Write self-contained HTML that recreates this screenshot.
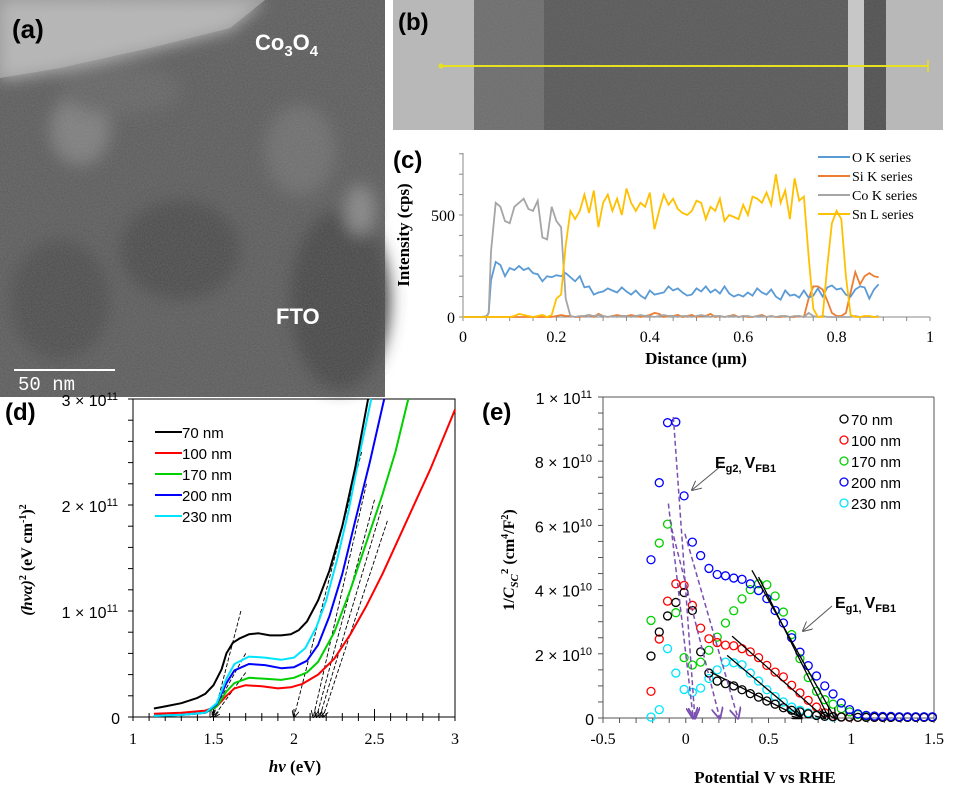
<!DOCTYPE html>
<html><head><meta charset="utf-8"><style>
body{margin:0;background:#fff;}
svg{display:block;}
.serif{font-family:"Liberation Serif",serif;}
.sans{font-family:"Liberation Sans",sans-serif;}
</style></head><body>
<svg id="fig" width="955" height="797" viewBox="0 0 955 797" xmlns="http://www.w3.org/2000/svg">
<defs>
<filter id="noise" x="0" y="0" width="100%" height="100%">
<feTurbulence type="fractalNoise" baseFrequency="0.7" numOctaves="2" seed="3"/>
<feColorMatrix type="matrix" values="0 0 0 0 0.5  0 0 0 0 0.5  0 0 0 0 0.5  0 0 0 0.5 0"/>
</filter>
<filter id="blur"><feGaussianBlur stdDeviation="8"/></filter>
<marker id="ah" markerWidth="8" markerHeight="8" refX="7" refY="4" orient="auto"><path d="M0,0 L8,4 L0,8" fill="none" stroke="#000" stroke-width="1"/></marker>
<marker id="ahp" markerWidth="8" markerHeight="8" refX="7" refY="4" orient="auto"><path d="M0,0 L8,4 L0,8" fill="none" stroke="#7b4fb0" stroke-width="1.2"/></marker>
<marker id="ahg" markerWidth="10" markerHeight="10" refX="9" refY="5" orient="auto"><path d="M0,0 L10,5 L0,10" fill="none" stroke="#555" stroke-width="1"/></marker>
</defs>
<!-- panel a -->
<g>
<rect x="0" y="0" width="385" height="397" fill="#5a5a5a"/>
<g filter="url(#blur)">
<polygon points="0,0 265,0 230,30 150,50 60,70 0,80" fill="#b4b4b4"/>
<ellipse cx="80" cy="130" rx="30" ry="35" fill="#7c7c7c"/>
<ellipse cx="300" cy="150" rx="35" ry="45" fill="#6c6c6c"/>
<ellipse cx="180" cy="250" rx="60" ry="50" fill="#4a4a4a"/>
<ellipse cx="340" cy="300" rx="50" ry="90" fill="#444"/>
<ellipse cx="60" cy="300" rx="50" ry="60" fill="#4c4c4c"/>
<ellipse cx="360" cy="210" rx="15" ry="25" fill="#858585"/>
<ellipse cx="120" cy="90" rx="60" ry="25" fill="#646464"/>
</g>
<polygon points="0,0 265,0 230,28 150,48 60,68 0,78" fill="#b8b8b8" opacity="0.6"/>
<rect x="0" y="0" width="385" height="397" filter="url(#noise)" opacity="0.5"/>
<text x="12" y="38" class="sans" font-size="26" font-weight="bold" fill="#000">(a)</text>
<text x="255" y="50" class="sans" font-size="22" font-weight="bold" fill="#fff">Co<tspan font-size="15" dy="6">3</tspan><tspan dy="-6">O</tspan><tspan font-size="15" dy="6">4</tspan></text>
<text x="276" y="324" class="sans" font-size="22" font-weight="bold" fill="#fff">FTO</text>
<line x1="14" y1="370" x2="115" y2="370" stroke="#fff" stroke-width="2"/>
<text x="18" y="390" font-family="Liberation Mono,monospace" font-size="19" fill="#fff">50 nm</text>
</g>
<!-- panel b -->
<g>
<rect x="393" y="0" width="550" height="130" fill="#b8b8b8"/>
<rect x="474" y="0" width="374" height="130" fill="#585858"/>
<rect x="474" y="0" width="70" height="130" fill="#6c6c6c"/>
<rect x="848" y="0" width="16" height="130" fill="#c8c8c8"/>
<rect x="864" y="0" width="22" height="130" fill="#505050"/>
<rect x="393" y="0" width="550" height="130" filter="url(#noise)" opacity="0.35"/>
<line x1="441" y1="66" x2="928" y2="66" stroke="#e6e020" stroke-width="2"/>
<circle cx="441" cy="66" r="2.5" fill="#e6e020"/>
<line x1="928" y1="60" x2="928" y2="72" stroke="#e6e020" stroke-width="1.5"/>
<text x="398" y="30" class="sans" font-size="24" font-weight="bold" fill="#000">(b)</text>
</g>
<text x="393" y="168" class="sans" font-size="24" font-weight="bold">(c)</text>
<text x="5" y="420" class="sans" font-size="24" font-weight="bold">(d)</text>
<text x="482" y="420" class="sans" font-size="24" font-weight="bold">(e)</text>
<g id="pc"></g>
<g id="pd"></g>
<g id="pe"></g>
</svg>
<script>
// ---------- panel c data ----------
const cDist = [0,0.02,0.04,0.05,0.055,0.06,0.07,0.08,0.09,0.1,0.11,0.12,0.13,0.14,0.15,0.16,0.17,0.18,0.19,0.2,0.21,0.22,0.23,0.24,0.25,0.26,0.27,0.28,0.29,0.3,0.31,0.32,0.33,0.34,0.35,0.36,0.37,0.38,0.39,0.4,0.41,0.42,0.43,0.44,0.45,0.46,0.47,0.48,0.49,0.5,0.51,0.52,0.53,0.54,0.55,0.56,0.57,0.58,0.59,0.6,0.61,0.62,0.63,0.64,0.65,0.66,0.67,0.68,0.69,0.7,0.71,0.72,0.73,0.74,0.75,0.76,0.77,0.78,0.79,0.8,0.81,0.82,0.83,0.84,0.85,0.86,0.87,0.88,0.89];
const cO  = [0,0,0,0,20,180,270,255,200,240,230,250,230,240,215,210,175,200,195,205,200,215,195,175,200,145,150,110,120,125,140,130,120,145,125,110,130,105,90,130,110,115,120,150,130,140,120,105,110,140,125,150,120,135,115,150,115,100,110,100,120,105,140,120,110,135,100,85,130,105,110,95,130,95,105,140,100,145,155,135,140,110,100,135,150,145,90,135,160];
const cSi = [0,0,0,0,0,0,0,0,0,0,0,0,0,0,0,0,0,0,0,5,10,5,5,0,0,5,10,0,15,5,0,5,10,5,5,10,5,0,5,10,20,15,0,5,5,10,0,5,10,0,5,5,15,0,5,0,5,10,0,5,0,0,5,10,0,5,0,0,5,0,0,5,0,90,150,150,135,80,20,5,5,20,120,220,160,200,215,200,195];
const cCo = [0,0,0,5,20,320,560,540,470,460,540,560,580,530,520,570,390,380,540,470,440,90,5,0,5,5,10,5,10,5,0,5,0,5,5,0,5,10,5,5,0,5,10,5,5,0,5,5,0,5,10,5,0,5,5,0,5,5,0,5,5,0,5,5,0,5,0,5,5,0,5,5,0,20,5,0,5,0,0,0,0,0,0,5,0,0,0,0,5];
const cSn = [0,0,0,0,0,0,0,0,0,0,5,15,10,5,0,5,10,0,10,90,110,350,520,480,520,600,510,620,440,560,600,520,580,500,630,560,520,560,540,610,430,520,600,550,580,530,510,500,520,570,560,480,540,520,580,470,500,490,480,550,500,590,580,560,610,550,700,560,620,480,680,570,590,300,40,0,0,250,460,520,480,200,10,0,0,5,5,0,0];
const cYTicks = [0,500];
const cXTicks = [0,0.2,0.4,0.6,0.8,1];
// ---------- panel d data ----------
const dSeriesNames = ["70 nm","100 nm","170 nm","200 nm","230 nm"];
const dX70  = [1.13,1.2,1.3,1.4,1.45,1.5,1.55,1.58,1.62,1.66,1.72,1.78,1.85,1.92,1.98,2.03,2.08,2.15,2.22,2.3,2.38,2.46];
const dY70  = [0.08,0.1,0.13,0.18,0.22,0.3,0.45,0.6,0.7,0.74,0.78,0.79,0.77,0.77,0.78,0.82,0.9,1.1,1.38,1.8,2.35,3.0];
const dX100 = [1.13,1.3,1.45,1.52,1.58,1.63,1.7,1.8,1.9,1.98,2.05,2.15,2.25,2.35,2.45,2.55,2.7,2.85,3.0];
const dY100 = [0.03,0.04,0.06,0.1,0.2,0.27,0.3,0.29,0.27,0.28,0.31,0.4,0.55,0.78,1.05,1.35,1.85,2.35,2.9];
const dX170 = [1.13,1.3,1.45,1.52,1.58,1.63,1.72,1.82,1.92,2.0,2.08,2.15,2.25,2.35,2.45,2.55,2.63,2.71];
const dY170 = [0.01,0.02,0.04,0.1,0.24,0.32,0.37,0.36,0.35,0.37,0.42,0.52,0.8,1.2,1.65,2.1,2.5,3.0];
const dX200 = [1.13,1.3,1.45,1.52,1.58,1.63,1.72,1.82,1.92,2.0,2.08,2.15,2.22,2.3,2.38,2.47,2.56];
const dY200 = [0.01,0.02,0.04,0.12,0.32,0.44,0.5,0.49,0.46,0.47,0.53,0.68,0.95,1.35,1.85,2.4,3.0];
const dX230 = [1.13,1.3,1.45,1.52,1.58,1.63,1.72,1.82,1.92,2.0,2.07,2.14,2.2,2.27,2.34,2.41,2.48];
const dY230 = [0.01,0.02,0.04,0.13,0.36,0.5,0.57,0.56,0.54,0.56,0.65,0.85,1.1,1.5,1.95,2.5,3.0];
const dTangentStart = [[1.5,0],[1.48,0],[1.5,0],[2.0,0],[2.12,0],[2.14,0],[2.16,0],[2.18,0]];
const dTangentEnd   = [[1.67,1.0],[1.7,0.6],[1.7,0.42],[2.42,2.5],[2.45,2.2],[2.5,2.05],[2.55,2.0],[2.58,1.85]];
const dXTicks = [1,1.5,2,2.5,3];
const dYTicks = [0,1,2,3];
// ---------- panel e data ----------
const eX = [-0.21,-0.16,-0.11,-0.06,-0.01,0.04,0.09,0.14,0.19,0.24,0.29,0.34,0.39,0.44,0.49,0.54,0.59,0.64,0.69,0.74,0.79,0.84,0.89,0.94,0.99,1.04,1.09,1.14,1.19,1.24,1.29,1.34,1.39,1.44,1.49];
const e70  = [1.93,2.68,3.18,3.6,3.91,3.35,2.06,1.4,1.15,1.07,1.0,0.88,0.76,0.65,0.53,0.43,0.32,0.24,0.19,0.13,0.08,0.05,0.04,0.03,0.03,0.02,0.02,0.02,0.02,0.02,0.02,0.02,0.02,0.02,0.02];
const e100 = [0.83,2.46,3.64,4.18,4.13,3.51,2.8,2.47,2.35,2.27,2.25,2.16,2.06,1.88,1.64,1.43,1.28,1.02,0.78,0.55,0.34,0.16,0.05,0.03,0.02,0.02,0.02,0.02,0.02,0.02,0.02,0.02,0.02,0.02,0.02];
const e170 = [3.04,5.45,6.04,3.28,1.88,1.65,1.74,2.11,2.52,2.96,3.34,3.71,4.0,4.18,4.15,3.8,3.3,2.6,1.85,1.26,0.83,0.57,0.43,0.29,0.19,0.11,0.06,0.04,0.03,0.03,0.03,0.03,0.03,0.03,0.03];
const e200 = [4.93,7.33,9.2,9.22,6.92,5.48,5.06,4.66,4.47,4.43,4.36,4.32,4.18,3.97,3.72,3.35,2.96,2.5,2.05,1.63,1.31,1.0,0.75,0.47,0.26,0.13,0.08,0.06,0.05,0.05,0.04,0.04,0.04,0.04,0.04];
const e230 = [0.03,0.26,2.16,1.4,0.89,0.8,0.93,1.23,1.5,1.74,1.72,1.66,1.4,1.15,0.88,0.67,0.5,0.34,0.24,0.16,0.1,0.05,0.03,0.03,0.03,0.02,0.02,0.02,0.02,0.02,0.02,0.02,0.02,0.02,0.02];
const eFitStart = [[0.4,4.6],[0.44,4.39],[0.28,2.55],[0.25,1.95],[0.15,1.43]];
const eFitEnd   = [[0.9,0],[0.86,0.05],[0.84,0],[0.7,0],[0.7,0]];
const eDashStart = [[-0.075,9.38],[-0.105,6.68],[-0.085,5.9],[-0.005,5.74]];
const eDashEnd   = [[0.055,0],[0.045,0],[0.205,0],[0.315,0]];
const eXTicks = [-0.5,0,0.5,1,1.5];
const eYTicks = [0,2,4,6,8,10];

const NS="http://www.w3.org/2000/svg";
function mk(parent,tag,attrs,text){const e=document.createElementNS(NS,tag);for(const k in attrs)e.setAttribute(k,attrs[k]);if(text!==undefined)e.textContent=text;parent.appendChild(e);return e;}
function lin(d0,d1,r0,r1){return v=>r0+(v-d0)/(d1-d0)*(r1-r0);}
function path(xs,ys,sx,sy){return xs.map((x,i)=>(i?'L':'M')+sx(x).toFixed(1)+','+sy(ys[i]).toFixed(1)).join(' ');}

// ---- panel C ----
(function(){
const g=document.getElementById('pc');
const sx=lin(0,1,463,930), sy=lin(0,500,317,215);
mk(g,'line',{x1:463,y1:153,x2:463,y2:317,stroke:'#888'});
mk(g,'line',{x1:463,y1:317,x2:930,y2:317,stroke:'#888'});
for(let v=0;v<=800;v+=100){mk(g,'line',{x1:459,y1:sy(v),x2:463,y2:sy(v),stroke:'#888'});}
for(let v=0;v<=1.001;v+=0.05){mk(g,'line',{x1:sx(v),y1:317,x2:sx(v),y2:321,stroke:'#888'});}
cYTicks.forEach(v=>{const t=mk(g,'text',{x:455,y:sy(v)+6,'text-anchor':'end','font-size':16,class:'serif'},String(v));

});
cXTicks.forEach(v=>{const t=mk(g,'text',{x:sx(v),y:342,'text-anchor':'middle','font-size':16,class:'serif'},String(v));

});
const yl=mk(g,'text',{x:0,y:0,transform:'translate(409,235) rotate(-90)','text-anchor':'middle','font-size':17,'font-weight':'bold',class:'serif'},'Intensity (cps)');


const xl=mk(g,'text',{x:696,y:364,'text-anchor':'middle','font-size':17,'font-weight':'bold',class:'serif'},'Distance (µm)');


const series=[[cSi,'#ed7d31','si-k-series'],[cO,'#5b9bd5','o-k-series'],[cCo,'#a5a5a5','co-k-series'],[cSn,'#ffc000','sn-l-series']];
series.forEach(s=>{const p=mk(g,'path',{d:path(cDist,s[0],sx,sy),fill:'none',stroke:s[1],'stroke-width':1.8});

});
const leg=[['O K series','#5b9bd5'],['Si K series','#ed7d31'],['Co K series','#a5a5a5'],['Sn L series','#ffc000']];
leg.forEach((l,i)=>{const y=157+i*19;
const le=mk(g,'g',{});


mk(le,'line',{x1:818,y1:y,x2:850,y2:y,stroke:l[1],'stroke-width':2});
mk(le,'text',{x:852,y:y+5,'font-size':14,class:'serif'},l[0]);});
})();

// ---- panel D ----
(function(){
const g=document.getElementById('pd');
const sx=lin(1,3,133,455), sy=lin(0,3,717,399);
mk(g,'rect',{x:133,y:399,width:322,height:318,fill:'none',stroke:'#000','stroke-width':1});
for(let v=0;v<=3.001;v+=0.2){mk(g,'line',{x1:128,y1:sy(v),x2:133,y2:sy(v),stroke:'#000'});}
for(let v=1;v<=3.001;v+=0.1){mk(g,'line',{x1:sx(v),y1:717,x2:sx(v),y2:Math.abs((v*2)%1)<0.01||Math.abs((v*2)%1-1)<0.01?709:713,stroke:'#000'});mk(g,'line',{x1:sx(v),y1:717,x2:sx(v),y2:721,stroke:'#000'});}
dYTicks.forEach(v=>{const t=mk(g,'text',{x:v===0?120:118,y:sy(v)+7,'text-anchor':'end','font-size':16,class:'sans'});


if(v===0){t.textContent='0';}else{t.textContent=v+' × 10';mk(t,'tspan',{dy:-6,'font-size':11},'11');}});
dXTicks.forEach(v=>{const t=mk(g,'text',{x:sx(v),y:744,'text-anchor':'middle','font-size':16,class:'serif'},String(v));

});
const yl=mk(g,'text',{x:0,y:0,transform:'translate(32,560) rotate(-90)','text-anchor':'middle','font-size':16,'font-weight':'bold',class:'serif'});


mk(yl,'tspan',{'font-style':'italic'},'(hvα)');mk(yl,'tspan',{dy:-6,'font-size':10},'2');mk(yl,'tspan',{dy:6},' (eV cm');mk(yl,'tspan',{dy:-6,'font-size':10},'-1');mk(yl,'tspan',{dy:6},')');mk(yl,'tspan',{dy:-6,'font-size':10},'2');
const xl=mk(g,'text',{x:295,y:772,'text-anchor':'middle','font-size':17,'font-weight':'bold',class:'serif'});


mk(xl,'tspan',{'font-style':'italic'},'hv');mk(xl,'tspan',{},' (eV)');
dTangentStart.forEach((s,i)=>{const e=dTangentEnd[i];const l=mk(g,'line',{x1:sx(e[0]),y1:sy(e[1]),x2:sx(s[0]),y2:sy(s[1]),stroke:'#000','stroke-width':0.9,'stroke-dasharray':'4,2','marker-end':'url(#ah)'});

});
const ser=[[dX100,dY100,'#ff0000'],[dX170,dY170,'#00d000'],[dX200,dY200,'#0000ff'],[dX230,dY230,'#00e5ff'],[dX70,dY70,'#000000']];
const snames=['curve-100nm','curve-170nm','curve-200nm','curve-230nm','curve-70nm'];
ser.forEach((s,i)=>{const p=mk(g,'path',{d:path(s[0],s[1],sx,sy),fill:'none',stroke:s[2],'stroke-width':2,'stroke-linejoin':'round'});

});
const cols=['#000','#ff0000','#00d000','#0000ff','#00e5ff'];
dSeriesNames.forEach((n,i)=>{const y=432+i*21;const le=mk(g,'g',{});


mk(le,'line',{x1:155,y1:y,x2:182,y2:y,stroke:cols[i],'stroke-width':2});
mk(le,'text',{x:182,y:y+6,'font-size':15,class:'sans'},n);});
})();

// ---- panel E ----
(function(){
const g=document.getElementById('pe');
const sx=lin(-0.5,1.5,603,934), sy=lin(0,10,718,397);
mk(g,'line',{x1:603,y1:397,x2:603,y2:718,stroke:'#555'});
mk(g,'line',{x1:603,y1:718,x2:934,y2:718,stroke:'#555'});
mk(g,'line',{x1:934,y1:397,x2:934,y2:718,stroke:'#555'});
mk(g,'line',{x1:603,y1:397,x2:934,y2:397,stroke:'#555'});
for(let v=0;v<=10.001;v+=0.5){mk(g,'line',{x1:598,y1:sy(v),x2:603,y2:sy(v),stroke:'#555'});}
for(let v=-0.5;v<=1.501;v+=0.1){mk(g,'line',{x1:sx(v),y1:718,x2:sx(v),y2:723,stroke:'#555'});}
eYTicks.forEach(v=>{const t=mk(g,'text',{x:v===0?594:592,y:sy(v)+7,'text-anchor':'end','font-size':16,class:'sans'});


if(v===0){t.textContent='0';}else if(v===10){t.textContent='1 × 10';mk(t,'tspan',{dy:-6,'font-size':11},'11');}else{t.textContent=v+' × 10';mk(t,'tspan',{dy:-6,'font-size':11},'10');}});
eXTicks.forEach(v=>{const t=mk(g,'text',{x:sx(v),y:744,'text-anchor':'middle','font-size':16,class:'serif'},String(v));

});
const yl=mk(g,'text',{x:0,y:0,transform:'translate(514,560) rotate(-90)','text-anchor':'middle','font-size':16,'font-weight':'bold',class:'serif'});


mk(yl,'tspan',{},'1/');mk(yl,'tspan',{'font-style':'italic'},'C');mk(yl,'tspan',{'font-style':'italic','font-size':11,dy:4},'SC');mk(yl,'tspan',{'font-size':11,dy:-10},'2');mk(yl,'tspan',{dy:6},' (cm');mk(yl,'tspan',{'font-size':10,dy:-6},'4');mk(yl,'tspan',{dy:6},'/F');mk(yl,'tspan',{'font-size':10,dy:-6},'2');mk(yl,'tspan',{dy:6},')');
const xl=mk(g,'text',{x:765,y:783,'text-anchor':'middle','font-size':17,'font-weight':'bold',class:'serif'},'Potential V vs RHE');


const ser=[[e230,'#00e5ff','points-230nm'],[e170,'#00d000','points-170nm'],[e100,'#ff0000','points-100nm'],[e70,'#000','points-70nm'],[e200,'#0000ff','points-200nm']];
ser.forEach(s=>{const gg=mk(g,'g',{});


eX.forEach((x,i)=>mk(gg,'circle',{cx:sx(x),cy:sy(s[0][i]),r:4,fill:'none',stroke:s[1],'stroke-width':1.3}));});
eFitStart.forEach((s,i)=>{const e=eFitEnd[i];const l=mk(g,'line',{x1:sx(s[0]),y1:sy(s[1]),x2:sx(e[0]),y2:sy(e[1]),stroke:'#000','stroke-width':1.3,'marker-end':'url(#ah)'});

});
eDashStart.forEach((s,i)=>{const e=eDashEnd[i];const l=mk(g,'line',{x1:sx(s[0]),y1:sy(s[1]),x2:sx(e[0]),y2:sy(e[1]),stroke:'#7b4fb0','stroke-width':1.5,'stroke-dasharray':'5,3','marker-end':'url(#ahp)'});

});
const ar1=mk(g,'line',{x1:721,y1:466,x2:692,y2:490,stroke:'#555','stroke-width':1,'marker-end':'url(#ahg)'});


const ar2=mk(g,'line',{x1:832,y1:606,x2:803,y2:631,stroke:'#555','stroke-width':1,'marker-end':'url(#ahg)'});


const a1=mk(g,'text',{x:715,y:468,'font-size':16,'font-weight':'bold',class:'sans'});


mk(a1,'tspan',{},'E');mk(a1,'tspan',{'font-size':11,dy:4},'g2, ');mk(a1,'tspan',{dy:-4},'V');mk(a1,'tspan',{'font-size':11,dy:4},'FB1');
const a2=mk(g,'text',{x:835,y:608,'font-size':16,'font-weight':'bold',class:'sans'});


mk(a2,'tspan',{},'E');mk(a2,'tspan',{'font-size':11,dy:4},'g1, ');mk(a2,'tspan',{dy:-4},'V');mk(a2,'tspan',{'font-size':11,dy:4},'FB1');
const names=['70 nm','100 nm','170 nm','200 nm','230 nm'];const cols=['#000','#ff0000','#00d000','#0000ff','#00e5ff'];
names.forEach((n,i)=>{const y=419+i*21;const le=mk(g,'g',{});


mk(le,'circle',{cx:844,cy:y,r:4,fill:'none',stroke:cols[i],'stroke-width':1.3});
mk(le,'text',{x:851,y:y+6,'font-size':15,class:'sans'},n);});
})();
</script>
</body></html>
